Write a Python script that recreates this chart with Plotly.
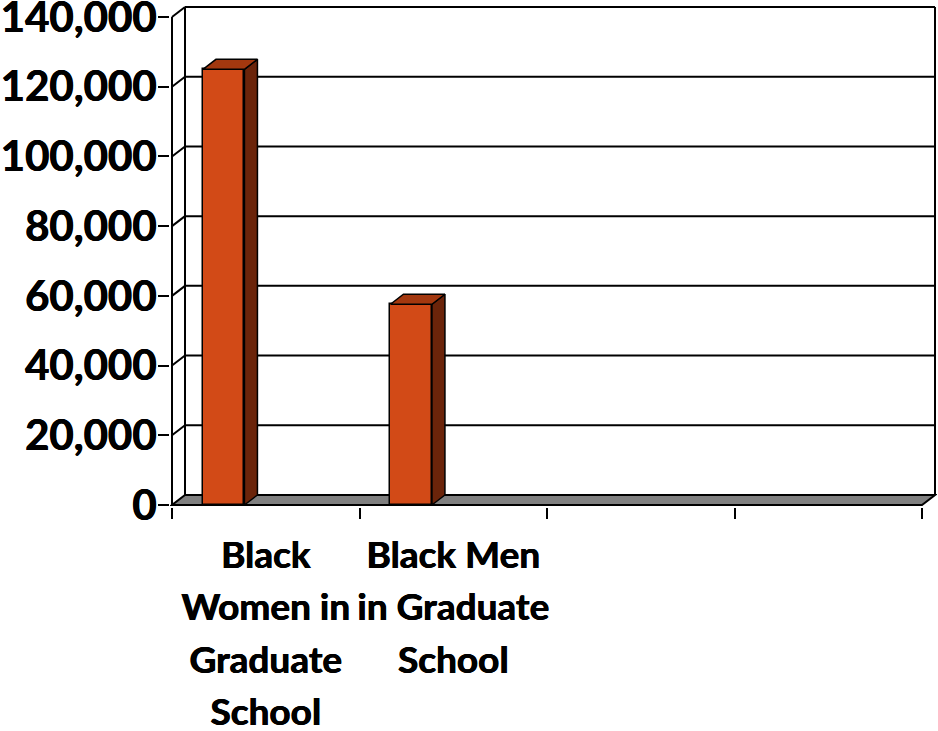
import plotly.graph_objects as go

# ---- data ----
categories = ["Black Women in Graduate School", "Black Men in Graduate School"]
tick_lines = [["Black", "Women in", "Graduate", "School"], ["Black Men", "in Graduate", "School"]]
values = [125000, 57600]
y_tick_values = [0, 20000, 40000, 60000, 80000, 100000, 120000, 140000]
n_slots = 4
y_max = 140000

# ---- geometry (pixels -> data units) ----
W, H = 938, 731
front_left_px, front_right_px = 172, 922
zero_px, top_px = 505, 17
slot_px = (front_right_px - front_left_px) / n_slots      # px per category slot
ypx = y_max / (zero_px - top_px)                          # data units per px
DX = 13 / slot_px                                         # depth offset (x)
DY = 10 * ypx                                             # depth offset (y)
pad = 2
x0 = -0.5
x1 = n_slots - 0.5
xr = [x0 - pad / slot_px, x1 + DX + pad / slot_px]
yr = [-pad * ypx, y_max + DY + pad * ypx]

bar_w = 41.5 / slot_px
bar_off = -0.335

FRONT = "#D24A17"
SIDE = "#6B240A"
TOP = "#A3380F"
FLOOR = "#808080"
LINE = "black"
SHADOW = "0.5px 0 0 black, -0.3px 0 0 black"

tick_text = ["<br>".join(f'<span style="font-size:37px">{s}</span>' for s in lines)
             for lines in tick_lines]

fig = go.Figure()

# front faces
fig.add_trace(go.Bar(
    x=list(range(len(values))), y=values, width=bar_w, offset=bar_off,
    marker=dict(color=FRONT, line=dict(color=LINE, width=1.5)),
    hoverinfo="skip", showlegend=False, cliponaxis=False,
))

# side + top faces
for i, v in enumerate(values):
    l = i + bar_off
    r = l + bar_w
    fig.add_trace(go.Scatter(
        x=[r, r + DX, r + DX, r, r], y=[0, DY, v + DY, v, 0],
        mode="lines", fill="toself", fillcolor=SIDE,
        line=dict(color=LINE, width=1.5), hoverinfo="skip", showlegend=False))
    fig.add_trace(go.Scatter(
        x=[l, l + DX, r + DX, r, l], y=[v, v + DY, v + DY, v, v],
        mode="lines", fill="toself", fillcolor=TOP,
        line=dict(color=LINE, width=1.5), hoverinfo="skip", showlegend=False))

shapes = []
# floor
shapes.append(dict(type="path", xref="x", yref="y", layer="below",
                   path=f"M {x0},0 L {x1},0 L {x1+DX},{DY} L {x0+DX},{DY} Z",
                   fillcolor=FLOOR, line=dict(color=LINE, width=2)))
# walls
for (ax, ay, bx, by) in [
    (x0, 0, x0, y_max),
    (x0 + DX, DY, x0 + DX, y_max + DY),
    (x1 + DX, DY, x1 + DX, y_max + DY),
]:
    shapes.append(dict(type="line", xref="x", yref="y", layer="below",
                       x0=ax, y0=ay, x1=bx, y1=by, line=dict(color=LINE, width=2)))
for t in y_tick_values[1:]:
    shapes.append(dict(type="line", xref="x", yref="y", layer="below",
                       x0=x0 + DX, y0=t + DY, x1=x1 + DX, y1=t + DY,
                       line=dict(color=LINE, width=2)))
    shapes.append(dict(type="line", xref="x", yref="y", layer="below",
                       x0=x0, y0=t, x1=x0 + DX, y1=t + DY,
                       line=dict(color=LINE, width=2)))

fig.update_layout(
    width=W, height=H,
    margin=dict(l=front_left_px - pad, r=W - (front_right_px + 13 + pad),
                t=top_px - 10 - pad, b=H - zero_px - pad, autoexpand=False),
    plot_bgcolor="white", paper_bgcolor="white",
    shapes=shapes, showlegend=False, bargap=0,
    xaxis=dict(
        range=xr, showgrid=False, zeroline=False, showline=False, automargin=False,
        tickmode="array", tickvals=list(range(len(tick_text))), ticktext=tick_text,
        ticks="", ticklabelstandoff=19, ticklabeloverflow="allow",
        tickfont=dict(family="Lato", size=40.5, color="black", weight="bold", shadow=SHADOW),
        minor=dict(tickmode="array", tickvals=[x0 + k for k in range(n_slots + 1)],
                   ticks="outside", ticklen=11, tickwidth=2, tickcolor=LINE, showgrid=False),
        fixedrange=True,
    ),
    yaxis=dict(
        range=yr, showgrid=False, zeroline=False, showline=False, automargin=False,
        tickmode="array", tickvals=y_tick_values, tickformat=",d",
        ticks="outside", ticklen=11, tickwidth=2, tickcolor=LINE,
        ticklabeloverflow="allow", ticklabelstandoff=-7,
        tickfont=dict(family="Lato", size=42, color="black", weight="bold", shadow=SHADOW),
        fixedrange=True,
    ),
)

fig.write_html("out.html", config={"displayModeBar": False},
               post_script="document.body.style.margin='0';")
